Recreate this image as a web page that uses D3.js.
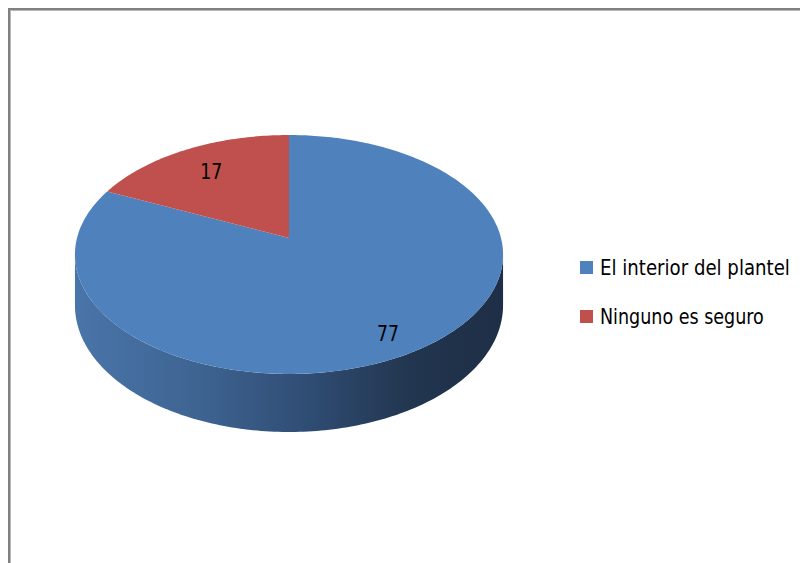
<!DOCTYPE html>
<html>
<head>
<meta charset="utf-8">
<script src="https://cdn.jsdelivr.net/npm/d3@7"></script>
<style>
  html, body { margin: 0; padding: 0; background: #fff; }
  svg { display: block; }
</style>
</head>
<body>
<svg id="chart" width="800" height="563"></svg>
<script>
// Survey answers
const categories = ["El interior del plantel", "Ninguno es seguro"];
const values = [77, 17];
const colors = ["#4F81BD", "#C0504D"];

const W = 800, H = 563;
const svg = d3.select("#chart");

// Frame
svg.append("rect").attr("x", 0).attr("y", 0).attr("width", W).attr("height", H).attr("fill", "#fff");
svg.append("rect").attr("x", 9).attr("y", 9).attr("width", W + 20).attr("height", H + 20)
  .attr("fill", "none").attr("stroke", "#808080").attr("stroke-width", 2);
svg.append("rect").attr("x", 10.5).attr("y", 10.5).attr("width", W + 20).attr("height", H + 20)
  .attr("fill", "none").attr("stroke", "#b8b8b8").attr("stroke-width", 1);

// Perspective view of a tilted disc: far side shrinks, near side grows
const cx = 289, cy = 238;   // screen position of the disc centre
const sx = 212, sz = 117.2; // horizontal / depth scale
const persp = 0.138;        // perspective strength
const thickness = 50;       // height of the disc edge

function project(theta, r, drop) {
  const X = r * Math.sin(theta), Z = r * Math.cos(theta);
  const w = 1 + persp * Z;
  return [cx + sx * X / w, cy + (-sz * Z + drop) / w];
}

const pie = d3.pie().sort(null).value(d => d)(values);
const line = d3.line();
const step = Math.PI / 180;

function arcPoints(a0, a1, drop) {
  const n = Math.max(2, Math.ceil((a1 - a0) / step));
  return d3.range(n + 1).map(i => project(a0 + (a1 - a0) * i / n, 1, drop));
}

// Side gradient (lit from the left)
const defs = svg.append("defs");
const grad = defs.append("linearGradient").attr("id", "side")
  .attr("gradientUnits", "userSpaceOnUse")
  .attr("x1", cx - sx * 1.01).attr("x2", cx + sx * 1.01).attr("y1", 0).attr("y2", 0);
[[0, "#4A75AA"], [0.3, "#3D6390"], [0.55, "#2F4C73"], [0.78, "#22364F"], [1, "#1E2E46"]]
  .forEach(([o, c]) => grad.append("stop").attr("offset", o).attr("stop-color", c));

// Visible part of the edge: between the two silhouette tangents
const visA = Math.acos(-persp), visB = 2 * Math.PI - visA;
pie.forEach((d) => {
  const a0 = Math.max(d.startAngle, visA), a1 = Math.min(d.endAngle, visB);
  if (a1 <= a0) return;
  const top = arcPoints(a0, a1, 0);
  const bottom = arcPoints(a0, a1, thickness).reverse();
  svg.append("path").attr("d", line(top.concat(bottom)) + "Z")
    .attr("fill", "url(#side)");
});

// Top faces
pie.forEach((d, i) => {
  const pts = [project(0, 0, 0)].concat(arcPoints(d.startAngle, d.endAngle, 0));
  svg.append("path").attr("d", line(pts) + "Z").attr("fill", colors[i]);
});

const font = "'Liberation Sans Narrow', 'Arial Narrow', 'DejaVu Sans Condensed', sans-serif";

// Draw a narrow text: shrink the font to the wanted width, then stretch it
// back vertically so the glyph height stays the same.
function narrowText(parent, str, x, y, size, width, anchor) {
  const t = parent.append("text").attr("font-family", font).attr("font-size", size)
    .attr("fill", "#000").attr("text-anchor", anchor).text(str);
  const natural = t.node().getComputedTextLength();
  const k = Math.min(1, width / natural);
  t.attr("font-size", size * k)
    .attr("transform", `translate(${x},${y}) scale(1,${1 / k})`);
  return t;
}

// Value labels
const labelSpots = [{ angle: 150 * Math.PI / 180, r: 0.84 }, { angle: null, r: 0.74 }];
pie.forEach((d, i) => {
  const s = labelSpots[i];
  const ang = s.angle !== null ? s.angle : (d.startAngle + d.endAngle) / 2;
  const p = project(ang, s.r, 0);
  narrowText(svg, String(values[i]), p[0], p[1] + 8, 22, 22, "middle");
});

// Legend
const legendWidths = [190, 164];
const legend = svg.append("g").attr("transform", "translate(580,260)");
categories.forEach((c, i) => {
  const g = legend.append("g").attr("transform", `translate(0,${i * 49})`);
  g.append("rect").attr("x", 0).attr("y", 1).attr("width", 13).attr("height", 13).attr("fill", colors[i]);
  narrowText(g, c, 20, 15, 22, legendWidths[i], "start");
});
</script>
</body>
</html>
